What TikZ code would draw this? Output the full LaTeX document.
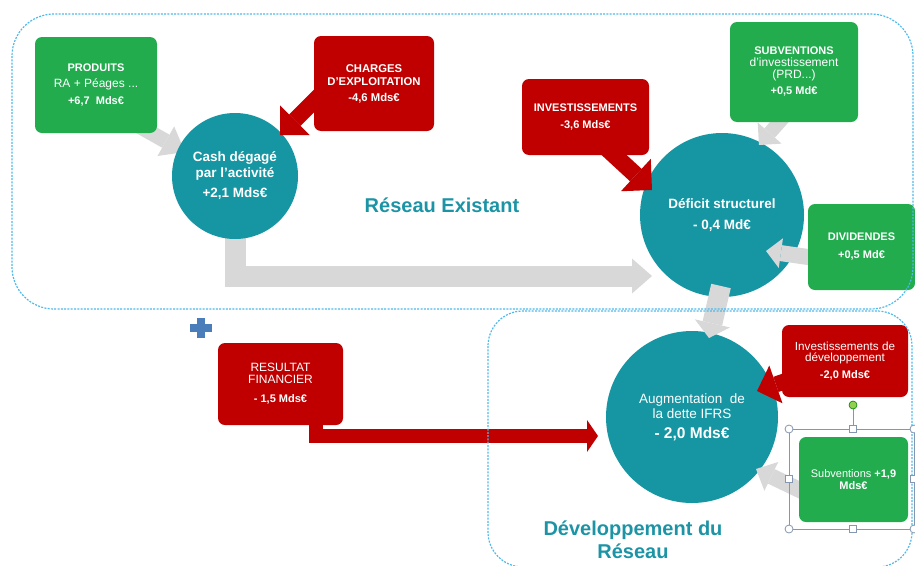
\documentclass[tikz,border=0pt]{standalone}
\usepackage{fontspec}
\setmainfont{Liberation Sans}
\usetikzlibrary{calc}
\definecolor{boxgreen}{RGB}{34,172,78}
\definecolor{boxred}{RGB}{192,0,0}
\definecolor{circteal}{RGB}{22,150,163}
\definecolor{titleteal}{RGB}{28,148,165}
\definecolor{arrowgray}{RGB}{216,216,216}
\definecolor{dashblue}{RGB}{80,185,235}
\definecolor{plusblue}{RGB}{74,126,187}
\definecolor{selframe}{RGB}{132,151,176}
\definecolor{handlegreen}{RGB}{146,208,80}
\pgfdeclarelayer{back}
\pgfdeclarelayer{front}
\pgfdeclarelayer{top}
\pgfsetlayers{back,main,front,top}
% colour, shaft width, head half width, head length, from, to
\newcommand\blockarrow[6]{%
  \coordinate (ba-base) at ($(#6)!#4!(#5)$);
  \draw[#1, line width=#2] (#5) -- (ba-base);
  \fill[#1] (#6) -- ($(ba-base)!#3!90:(#6)$) -- ($(ba-base)!#3!-90:(#6)$) -- cycle;}
% colour, head half width, base, tip
\newcommand\blockhead[4]{%
  \fill[#1] (#4) -- ($(#3)!#2!90:(#4)$) -- ($(#3)!#2!-90:(#4)$) -- cycle;}
% regular (non-bold) box text, slightly larger
\newcommand\rgtext[2][12]{{\fontsize{#1}{#1}\selectfont #2}}
\newcommand\bdtext[2][11]{{\fontsize{#1}{#1}\selectfont\bfseries #2}}
\begin{document}
\begin{tikzpicture}[x=1pt,y=-1pt,
  box/.style={rounded corners=7pt, text=white, align=center, inner sep=1pt},
  gbox/.style={box, fill=boxgreen},
  rbox/.style={box, fill=boxred},
  circ/.style={circle, fill=circteal, text=white, align=center, inner sep=0pt,
    font=\fontsize{13.5}{15.5}\selectfont},
  title/.style={text=titleteal, font=\fontsize{20}{23}\selectfont\bfseries, align=center},
  region/.style={draw=dashblue, line width=1.2pt, dash pattern=on 2pt off 1.3pt},
  handle/.style={draw=selframe, fill=white, line width=0.8pt},
]
\useasboundingbox (0,0) rectangle (915,565);

% circles
\node[circ, minimum size=126pt] (cash) at (235,176)
  {\bfseries Cash dégagé\\\bfseries par l’activité\\[5pt]\bfseries +2,1 Mds€};
\node[circ, minimum size=164pt] (def) at (722,215)
  {\bfseries Déficit structurel\\[5pt]\bfseries - 0,4 Md€};
\node[circ, minimum size=172pt] (aug) at (692,417)
  {Augmentation~~de\\la dette IFRS\\[4pt]\fontsize{15.5}{18}\selectfont\bfseries - 2,0 Mds€};

% boxes
\begin{pgfonlayer}{front}
\node[gbox, minimum width=122pt, minimum height=96pt, font=\fontsize{11}{16}\selectfont] (prod) at (96,85)
  {\bdtext{PRODUITS}\\\rgtext{RA + Péages ...}\\[1pt]\bdtext{+6,7~~Mds€}};
\node[rbox, minimum width=120pt, minimum height=95pt, font=\fontsize{11.3}{13}\selectfont] (charges) at (374,83.5)
  {\bdtext[11.3]{CHARGES}\\\bdtext[11.3]{D’EXPLOITATION}\\[3pt]\bdtext[11.3]{-4,6 Mds€}};
\node[rbox, minimum width=127pt, minimum height=76pt, font=\fontsize{11}{13}\selectfont] (invest) at (585.5,117)
  {\bdtext{INVESTISSEMENTS}\\[4pt]\bdtext{-3,6 Mds€}};
\node[gbox, minimum width=128pt, minimum height=100pt, font=\fontsize{11}{12}\selectfont] (subv) at (794,72)
  {\bdtext{SUBVENTIONS}\\\rgtext{d’investissement}\\\rgtext{(PRD...)}\\[4pt]\bdtext{+0,5 Md€}};
\node[gbox, minimum width=107pt, minimum height=86pt, font=\fontsize{11}{13}\selectfont] (divid) at (861.5,247)
  {\bdtext{DIVIDENDES}\\[5pt]\bdtext{+0,5 Md€}};
\node[rbox, minimum width=126pt, minimum height=72pt, font=\fontsize{11}{11.5}\selectfont] (invdev) at (845,361)
  {\rgtext[11.7]{Investissements de}\\\rgtext[11.7]{développement}\\[5.5pt]\bdtext{-2,0 Mds€}};
\node[gbox, minimum width=109pt, minimum height=85pt, font=\fontsize{11}{12}\selectfont] (subv2) at (853.5,479.5)
  {\rgtext[11]{Subventions} \bdtext{+1,9}\\\bdtext{Mds€}};
\node[rbox, minimum width=125pt, minimum height=82pt, font=\fontsize{11}{12}\selectfont] (resfin) at (280.5,384)
  {\rgtext{RESULTAT}\\\rgtext{FINANCIER}\\[7pt]\bdtext{- 1,5 Mds€}};
\end{pgfonlayer}

% titles
\node[title] (t1) at (442,205) {Réseau Existant};
\node[title] (t2) at (633,540) {Développement du\\Réseau};

% arrows under the circles
\begin{pgfonlayer}{back}
\coordinate (a1s) at (130,121); \coordinate (a1t) at (185,152);
\blockarrow{arrowgray}{15pt}{17pt}{22pt}{a1s}{a1t}
\coordinate (e1b) at (632,276); \coordinate (e1t) at (652,276);
\draw[arrowgray, line width=21pt, line join=miter] (cash.center) |- (e1b);
\blockhead{arrowgray}{17.5pt}{e1b}{e1t}
\end{pgfonlayer}

% arrows over the circles
\coordinate (a2s) at (325,90);  \coordinate (a2t) at (280,135);
\blockarrow{boxred}{16pt}{21pt}{21pt}{a2s}{a2t}
\coordinate (a3s) at (600,142); \coordinate (a3t) at (652,190);
\blockarrow{boxred}{17pt}{22pt}{22pt}{a3s}{a3t}
\coordinate (a4s) at (790,110); \coordinate (a4t) at (759,145);
\blockarrow{arrowgray}{14pt}{16pt}{16pt}{a4s}{a4t}
\coordinate (a5s) at (815,258); \coordinate (a5t) at (766,251);
\blockarrow{arrowgray}{16pt}{15pt}{15pt}{a5s}{a5t}
\coordinate (a6s) at (721,286); \coordinate (a6t) at (709,338);
\blockarrow{arrowgray}{20pt}{18pt}{15pt}{a6s}{a6t}
\coordinate (a7s) at (800,376); \coordinate (a7t) at (757,391);
\blockarrow{boxred}{16pt}{20pt}{20pt}{a7s}{a7t}
\coordinate (a8s) at (808,494); \coordinate (a8t) at (756,469);
\blockarrow{arrowgray}{16pt}{16pt}{17pt}{a8s}{a8t}
\coordinate (r1s) at (315.5,400); \coordinate (r1b) at (587,436); \coordinate (r1t) at (598,436);
\draw[boxred, line width=14pt, line join=miter] (r1s) |- (r1b);
\blockhead{boxred}{16pt}{r1b}{r1t}

% plus sign
\fill[plusblue] (190,324) rectangle (212,332);
\fill[plusblue] (197,318) rectangle (205,338);

\begin{pgfonlayer}{top}
% dashed regions
\draw[region, rounded corners=42pt] (12,14) rectangle (913,309);
\draw[region, rounded corners=35pt] (488,311) rectangle (912,567);
% selection frame round the subsidies box
\draw[selframe, line width=0.9pt] (789,429) rectangle (914,529);
\draw[selframe, line width=0.9pt] (853,405) -- (853,429);
\foreach \p in {(789,429),(914,429),(789,529),(914,529)}
  \draw[handle] \p circle (4pt);
\foreach \p in {(853,429),(853,529),(789,479),(914,479)}
  \draw[handle] \p ++(-3.5,-3.5) rectangle ++(7,7);
\draw[draw=green!50!black, fill=handlegreen, line width=0.6pt] (853,405) circle (4pt);
\end{pgfonlayer}
\end{tikzpicture}
\end{document}
